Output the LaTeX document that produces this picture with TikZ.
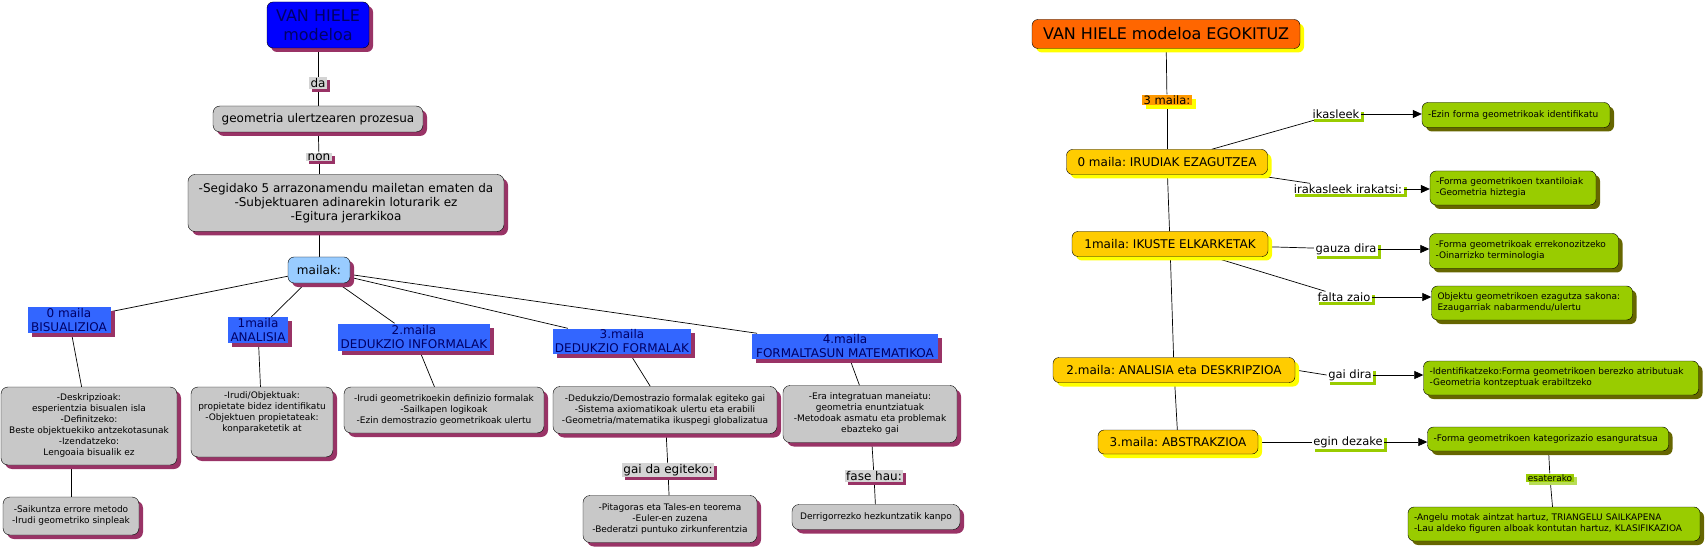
\documentclass[tikz,border=0pt]{standalone}
\usepackage{fontspec}
\setmainfont{DejaVu Sans}
\usetikzlibrary{shadows,arrows.meta,backgrounds}
\definecolor{purp}{HTML}{993366}
\definecolor{grayfill}{HTML}{C8C8C8}
\definecolor{glbl}{HTML}{D4D4D4}
\definecolor{bl}{HTML}{3366FF}
\definecolor{navy}{HTML}{000066}
\definecolor{lblue}{HTML}{99CCFF}
\definecolor{orng}{HTML}{FF6600}
\definecolor{orng2}{HTML}{FF9900}
\definecolor{gold}{HTML}{FFCC00}
\definecolor{yel}{HTML}{FFFF00}
\definecolor{grn}{HTML}{99CC00}
\definecolor{lgrn}{HTML}{B8DD55}
\definecolor{olive}{HTML}{666600}
\tikzset{
 pshadow/.style={drop shadow={shadow xshift=4pt,shadow yshift=-4pt,fill=purp,opacity=1}},
 pshadowsm/.style={drop shadow={shadow xshift=3pt,shadow yshift=-3pt,fill=purp,opacity=1}},
 yshadow/.style={drop shadow={shadow xshift=4pt,shadow yshift=-4pt,fill=yel,opacity=1}},
 gshadow/.style={drop shadow={shadow xshift=3pt,shadow yshift=-3pt,fill=grn,opacity=1}},
 oshadow/.style={drop shadow={shadow xshift=4pt,shadow yshift=-4pt,fill=olive,opacity=1}},
 titleA/.style={draw=black,fill=blue,rounded corners=6pt,pshadow,text=navy,align=center,
   font=\fontsize{16}{19}\selectfont,inner sep=0pt},
 grayA/.style={draw=black,fill=grayfill,rounded corners=7pt,pshadow,align=center,
   font=\fontsize{12}{14.3}\selectfont,inner sep=0pt},
 grayB/.style={draw=black,fill=grayfill,rounded corners=7pt,pshadow,align=center,
   font=\fontsize{9}{11}\selectfont,inner sep=0pt},
 lblA/.style={fill=glbl,pshadowsm,inner xsep=1.5pt,inner ysep=1pt,font=\fontsize{12}{13}\selectfont},
 mailbox/.style={draw=black,fill=lblue,rounded corners=6pt,pshadow,font=\fontsize{12}{14}\selectfont,inner sep=0pt},
 lev/.style={fill=bl,pshadow,text=navy,align=center,font=\fontsize{12}{14.5}\selectfont,inner sep=0pt},
 conn/.style={draw=black,line width=0.7pt},
 titleB/.style={draw=black,fill=orng,rounded corners=6pt,yshadow,font=\fontsize{16}{18}\selectfont,inner sep=0pt},
 lblB/.style={fill=orng2,yshadow,inner xsep=1.5pt,inner ysep=1pt,font=\fontsize{11.5}{12}\selectfont},
 ylev/.style={draw=black,fill=gold,rounded corners=6pt,yshadow,font=\fontsize{12}{13}\selectfont,inner sep=0pt},
 glab/.style={fill=white,gshadow,inner xsep=1.5pt,inner ysep=1pt,font=\fontsize{11.5}{13}\selectfont},
 gbox/.style={draw=black,fill=grn,rounded corners=6pt,oshadow,align=left,
   font=\fontsize{9}{11}\selectfont,inner xsep=6pt,inner ysep=0pt},
 elbl/.style={fill=grn,drop shadow={shadow xshift=3pt,shadow yshift=-3pt,fill=lgrn,opacity=1},
   inner xsep=1.5pt,inner ysep=1pt,font=\fontsize{9}{10}\selectfont},
 arr/.style={conn,-{Triangle[length=9pt,width=8pt]}}
}
\begin{document}
\frenchspacing
\begin{tikzpicture}[x=1pt,y=-1pt]
\useasboundingbox (0,0) rectangle (1706,548);
% ---------------- left map ----------------
\node[titleA,minimum width=102pt,minimum height=46pt] (vh) at (318,25) {VAN HIELE\\modeloa};
\node[lblA] (da) at (318,83) {da};
\node[grayA,minimum width=210pt,minimum height=26pt] (geo) at (318,119) {geometria ulertzearen prozesua};
\node[lblA] (non) at (319,157) {non};
\node[grayA,minimum width=316pt,minimum height=57pt] (seg) at (346,203)
 {-Segidako 5 arrazonamendu mailetan ematen da\\-Subjektuaren adinarekin loturarik ez\\-Egitura jerarkikoa};
\node[mailbox,minimum width=62pt,minimum height=26pt] (mailak) at (319,270) {mailak:};
\node[lev,minimum width=83pt,minimum height=26pt] (l0) at (69,320) {0 maila\\BISUALIZIOA};
\node[lev,minimum width=60pt,minimum height=26pt] (l1) at (258,330) {1maila\\ANALISIA};
\node[lev,minimum width=152pt,minimum height=27pt] (l2) at (414,337) {2.maila\\DEDUKZIO INFORMALAK};
\node[lev,minimum width=138pt,minimum height=25pt] (l3) at (622,341) {3.maila\\DEDUKZIO FORMALAK};
\node[lev,minimum width=186pt,minimum height=25pt] (l4) at (845,346) {4.maila\\FORMALTASUN MATEMATIKOA};
\node[grayB,minimum width=176pt,minimum height=78pt] (b0) at (89,426)
 {-Deskripzioak:\\esperientzia bisualen isla\\-Definitzeko:\\Beste objektuekiko antzekotasunak\\-Izendatzeko:\\Lengoaia bisualik ez};
\node[grayB,minimum width=136pt,minimum height=38pt] (b0b) at (71,516)
 {-Saikuntza errore metodo\\-Irudi geometriko sinpleak};
\node[grayB,minimum width=142pt,minimum height=70pt] (b1) at (262,422)
 {-Irudi/Objektuak:\\propietate bidez identifikatu\\-Objektuen propietateak:\\konparaketetik at\\[9pt]};
\node[grayB,minimum width=200pt,minimum height=46pt] (b2) at (444,410)
 {-Irudi geometrikoekin definizio formalak\\-Sailkapen logikoak\\-Ezin demostrazio geometrikoak ulertu};
\node[grayB,minimum width=224pt,minimum height=47pt] (b3) at (665,410)
 {-Dedukzio/Demostrazio formalak egiteko gai\\-Sistema axiomatikoak ulertu eta erabili\\-Geometria/matematika ikuspegi globalizatua};
\node[lblA] (gde) at (668,470) {gai da egiteko:};
\node[grayB,minimum width=174pt,minimum height=47pt] (b3b) at (670,519)
 {-Pitagoras eta Tales-en teorema\\-Euler-en zuzena\\-Bederatzi puntuko zirkunferentzia};
\node[grayB,minimum width=174pt,minimum height=57pt] (b4) at (870,414)
 {-Era integratuan maneiatu:\\geometria enuntziatuak\\-Metodoak asmatu eta problemak\\ebazteko gai};
\node[lblA] (fh) at (874,476) {fase hau:};
\node[grayB,minimum width=168pt,minimum height=25pt] (b4b) at (876,517) {Derrigorrezko hezkuntzatik kanpo};
% ---------------- right map ----------------
\node[titleB,minimum width=268pt,minimum height=29pt] (vhe) at (1166,34) {VAN HIELE modeloa EGOKITUZ};
\node[lblB] (m3) at (1167,100) {3 maila:};
\node[ylev,minimum width=201pt,minimum height=25pt] (y0) at (1167,162) {0 maila: IRUDIAK EZAGUTZEA};
\node[ylev,minimum width=196pt,minimum height=25pt] (y1) at (1170,244) {1maila: IKUSTE ELKARKETAK};
\node[ylev,minimum width=242pt,minimum height=25pt] (y2) at (1174,370) {2.maila: ANALISIA eta DESKRIPZIOA};
\node[ylev,minimum width=160pt,minimum height=24pt] (y3) at (1178,442) {3.maila: ABSTRAKZIOA};
\node[glab] (ik) at (1336,114) {ikasleek};
\node[glab] (ira) at (1348,189) {irakasleek irakatsi:};
\node[glab] (gz) at (1346,249) {gauza dira};
\node[glab] (fz) at (1344,297) {falta zaio};
\node[glab] (gd) at (1350,375) {gai dira};
\node[glab] (ed) at (1348,442) {egin dezake};
\node[gbox,minimum width=188pt,minimum height=25pt,text width=176pt] (g1) at (1516,115)
 {-Ezin forma geometrikoak identifikatu};
\node[gbox,minimum width=166pt,minimum height=34pt,text width=154pt] (g2) at (1513,188)
 {-Forma geometrikoen txantiloiak\\-Geometria hiztegia};
\node[gbox,minimum width=189pt,minimum height=35pt,text width=177pt] (g3) at (1524,251)
 {-Forma geometrikoak errekonozitzeko\\-Oinarrizko terminologia};
\node[gbox,minimum width=201pt,minimum height=34pt,text width=189pt] (g4) at (1532,303)
 {Objektu geometrikoen ezagutza sakona:\\Ezaugarriak nabarmendu/ulertu};
\node[gbox,minimum width=275pt,minimum height=34pt,text width=263pt] (g5) at (1561,378)
 {-Identifikatzeko:Forma geometrikoen berezko atributuak\\-Geometria kontzeptuak erabiltzeko};
\node[gbox,minimum width=241pt,minimum height=24pt,text width=229pt] (g6) at (1548,439)
 {-Forma geometrikoen kategorizazio esanguratsua};
\node[elbl] (esa) at (1550,478) {esaterako};
\node[gbox,minimum width=292pt,minimum height=34pt,text width=280pt] (g7) at (1554,524)
 {-Angelu motak aintzat hartuz, TRIANGELU SAILKAPENA\\-Lau aldeko figuren alboak kontutan hartuz, KLASIFIKAZIOA};
% ---------------- connectors ----------------
\begin{scope}[on background layer]
\draw[conn] (vh) -- (da);
\draw[conn] (da) -- (geo);
\draw[conn] (geo) -- (non);
\draw[conn] (non) -- (seg.north -| non);
\draw[conn] (seg.south -| mailak) -- (mailak);
\draw[conn] (mailak) -- (l0);
\draw[conn] (mailak) -- (l1);
\draw[conn] (mailak) -- (l2);
\draw[conn] (mailak) -- (l3);
\draw[conn] (mailak) -- (l4);
\draw[conn] (l0) -- (b0);
\draw[conn] (b0.south -| b0b) -- (b0b);
\draw[conn] (l1) -- (b1);
\draw[conn] (l2) -- (b2);
\draw[conn] (l3) -- (b3);
\draw[conn] (b3) -- (gde);
\draw[conn] (gde) -- (b3b);
\draw[conn] (l4) -- (b4);
\draw[conn] (b4) -- (fh);
\draw[conn] (fh) -- (b4b);
\draw[conn] (vhe) -- (m3);
\draw[conn] (m3) -- (y0);
\draw[conn] (y0) -- (y1);
\draw[conn] (y1) -- (y2);
\draw[conn] (y2) -- (y3);
\draw[conn] (y0) -- (ik);
\draw[conn] (y0) -- (ira);
\draw[conn] (y1) -- (gz);
\draw[conn] (y1) -- (fz);
\draw[conn] (y2.east) -- (gd.west);
\draw[conn] (y3.east) -- (ed.west);
\draw[conn] (g6) -- (esa);
\draw[conn] (esa) -- (g7);
\end{scope}
\draw[arr] (ik.east) -- (ik.east -| g1.west);
\draw[arr] (ira.east) -- (ira.east -| g2.west);
\draw[arr] (gz.east) -- (gz.east -| g3.west);
\draw[arr] (fz.east) -- (fz.east -| g4.west);
\draw[arr] (gd.east) -- (gd.east -| g5.west);
\draw[arr] (ed.east) -- (ed.east -| g6.west);
\end{tikzpicture}
\end{document}
